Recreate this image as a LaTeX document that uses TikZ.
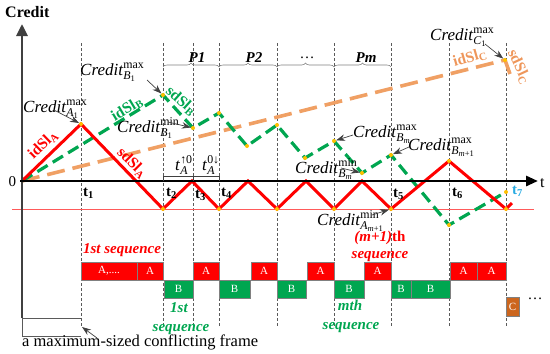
\documentclass[tikz,border=0pt]{standalone}
\usepackage{fontspec}
\usepackage{amsmath}
\setmainfont{Liberation Serif}
\usetikzlibrary{arrows.meta,decorations.pathreplacing}
\definecolor{myred}{RGB}{255,0,0}
\definecolor{myredthin}{RGB}{255,90,90}
\definecolor{mygreen}{RGB}{0,166,80}
\definecolor{myorange}{RGB}{240,160,100}
\definecolor{myorangetxt}{RGB}{238,150,90}
\definecolor{mybrown}{RGB}{204,102,30}
\definecolor{mycyan}{RGB}{41,171,226}
\definecolor{mydot}{RGB}{255,192,0}
\definecolor{axisgray}{RGB}{64,64,64}
\definecolor{guidegray}{RGB}{90,90,90}
\begin{document}
\begin{tikzpicture}[x=1pt,y=-1pt]
\tikzset{
 guide/.style={draw=guidegray, line width=0.6pt, dash pattern=on 3pt off 2pt},
 redline/.style={draw=myred, line width=3pt},
 grnline/.style={draw=mygreen, line width=3.2pt, dash pattern=on 12pt off 6pt},
 orgline/.style={draw=myorange, line width=3.6pt, dash pattern=on 18pt off 8pt},
 ptr/.style={draw=axisgray, line width=0.7pt, -{Stealth[length=9pt,width=6.5pt]}},
 dot/.style={circle, fill=mydot, inner sep=0pt, minimum size=4pt},
 cl/.style={anchor=base west, inner sep=0pt, font=\fontsize{17}{17}\selectfont},
 tl/.style={anchor=base west, inner sep=0pt, font=\bfseries\fontsize{15}{15}\selectfont},
 slopelab/.style={inner sep=0pt, font=\bfseries\fontsize{15.5}{15.5}\selectfont},
 seq/.style={anchor=base, inner sep=0pt, font=\bfseries\itshape\fontsize{15}{15}\selectfont},
 abox/.style={draw=gray, line width=0.5pt, fill=myred, text=white, minimum height=18pt, inner sep=0pt, font=\fontsize{11}{11}\selectfont},
 bbox/.style={abox, fill=mygreen},
 plab/.style={anchor=base, inner sep=0pt, font=\bfseries\itshape\fontsize{15}{15}\selectfont},
 brc/.style={draw=gray, line width=0.6pt, decorate, decoration={brace, amplitude=4pt}},
}
\useasboundingbox (0,0) rectangle (550,354);
% guide lines
\foreach \x in {81,163,193,219,277,334,391,449,506}
  \draw[guide] (\x,43) -- (\x,326);
% thin red reference line
\draw[myredthin, line width=0.6pt] (12,209) -- (534,209);
% coordinates
\coordinate (O) at (22,181);
\coordinate (R1) at (81,124);
\coordinate (R2) at (163,209);
\coordinate (R3) at (192,181);
\coordinate (R4) at (219,209);
\coordinate (R5) at (248,181);
\coordinate (R6) at (277,209);
\coordinate (R7) at (306,181);
\coordinate (R8) at (334,209);
\coordinate (R9) at (362,181);
\coordinate (R10) at (391,209);
\coordinate (R11) at (449,161);
\coordinate (R12) at (506,209);
\coordinate (R13) at (512,203);
\coordinate (G1) at (163,95);
\coordinate (G2) at (193,128);
\coordinate (G3) at (219,113);
\coordinate (G4) at (247,146);
\coordinate (G5) at (277,125);
\coordinate (G6) at (305,158);
\coordinate (G7) at (334,141);
\coordinate (G8) at (362,173);
\coordinate (G9) at (391,155);
\coordinate (G10) at (449,225);
\coordinate (G11) at (506,192);
\coordinate (O1) at (505,60);
\coordinate (O2) at (510,74);
% curves
\draw[orgline] (O) -- (O1);
\draw[draw=myorange, line width=3.6pt] (O1) -- (O2);
\draw[grnline] (O) -- (G1) -- (G2) -- (G3) -- (G4) -- (G5) -- (G6) -- (G7) -- (G8) -- (G9) -- (G10) -- (G11);
\draw[redline] (O) -- (R1) -- (R2) -- (R3) -- (R4) -- (R5) -- (R6) -- (R7) -- (R8) -- (R9) -- (R10) -- (R11) -- (R12) -- (R13);
% axes
\coordinate (ybot) at (22,318);
\coordinate (ytop) at (22,24);
\coordinate (xl) at (20,181);
\coordinate (xr) at (538,181);
\draw[axisgray, line width=2.8pt, -{Triangle[length=12pt,width=11pt]}] (ybot) -- (ytop);
\draw[black, line width=2.8pt, -{Triangle[length=12pt,width=10pt]}] (xl) -- (xr);
% t_A dimension bracket
\draw[axisgray, line width=0.7pt] (163,181) -- (163,176) -- (219,176) -- (219,181);
\draw[axisgray, line width=0.7pt] (193,176) -- (193,181);
% dots
\foreach \p in {R1,R2,R4,R6,R8,R10,R11,R12,G1,G2,G3,G4,G5,G6,G7,G8,G9,G10,G11,O1}
  \node[dot] (d\p) at (\p) {};
% frame
\draw[guidegray, line width=0.6pt] (22,318) -- (81,318);
\draw[guidegray, line width=0.6pt] (22,318) -- (22,336) -- (81,336);
\node[anchor=base west, inner sep=0pt, font=\fontsize{16.5}{16.5}\selectfont] (frame) at (22,346) {a maximum-sized conflicting frame};
\coordinate (frtail) at (97,338);
\coordinate (frtip) at (82,327);
\draw[ptr] (frtail) -- (frtip);
% title and axis labels
\node[anchor=base west, inner sep=0pt, font=\bfseries\fontsize{16}{16}\selectfont] (title) at (5,17) {Credit};
\node[anchor=base, inner sep=0pt, font=\fontsize{15}{15}\selectfont] (zero) at (12.5,186) {0};
\node[anchor=base west, inner sep=0pt, font=\fontsize{16}{16}\selectfont] (tlab) at (540,187) {t};
\node[tl] (t1) at (83,196) {t\textsubscript{1}};
\node[tl] (t2) at (166,196) {t\textsubscript{2}};
\node[tl] (t3) at (195,198) {t\textsubscript{3}};
\node[tl] (t4) at (221,196) {t\textsubscript{4}};
\node[tl] (t5) at (393,197) {t\textsubscript{5}};
\node[tl] (t6) at (452,196) {t\textsubscript{6}};
\node[tl, text=mycyan] (t7) at (512,194) {t\textsubscript{7}};
% braces and P labels
\draw[brc] (163,67) -- (219,67);
\draw[brc] (219,67) -- (277,67);
\draw[brc] (277,67) -- (334,67);
\draw[brc] (334,67) -- (391,67);
\node[plab] (P1) at (197,62) {P1};
\node[plab] (P2) at (254,62) {P2};
\node[anchor=base, inner sep=0pt, font=\fontsize{15}{15}\selectfont] (Pdots) at (307,58) {…};
\node[plab] (Pm) at (366,62) {Pm};
% t_A labels
\node[cl] (tAup) at (175,170) {\textit{t}$^{\text{↑0}}_{\text{\itshape A}}$};
\node[cl] (tAdn) at (202,170) {\textit{t}$^{\text{0↓}}_{\text{\itshape A}}$};
% slope labels
\node[slopelab, text=myred, rotate=44] (idA) at (43,145) {idSl\textsubscript{A}};
\node[slopelab, text=myred, rotate=-45] (sdA) at (132,163) {sdSl\textsubscript{A}};
\node[slopelab, text=mygreen, rotate=31] (idB) at (127,109) {idSl\textsubscript{B}};
\node[slopelab, text=mygreen, rotate=-42] (sdB) at (181,101) {sdSl\textsubscript{B}};
\node[slopelab, text=myorangetxt, rotate=16] (idC) at (470,58) {idSl\textsubscript{C}};
\node[slopelab, text=myorangetxt, rotate=-65] (sdC) at (519,67) {sdSl\textsubscript{C}};
% Credit labels
\node[cl] (cA1) at (23,112) {\textit{Credit}$^{\text{max}}_{\text{\itshape A}_{\text{1}}}$};
\node[cl] (cB1x) at (80,75) {\textit{Credit}$^{\text{max}}_{\text{\itshape B}_{\text{1}}}$};
\node[cl] (cB1n) at (117,132) {\textit{Credit}$^{\text{min}}_{\text{\itshape B}_{\text{1}}}$};
\node[cl] (cC1) at (430,40) {\textit{Credit}$^{\text{max}}_{\text{\itshape C}_{\text{1}}}$};
\node[cl] (cBmx) at (353,137) {\textit{Credit}$^{\text{max}}_{\text{\itshape B}_{\text{\itshape m}}}$};
\node[cl] (cBm1) at (408,150) {\textit{Credit}$^{\text{max}}_{\text{\itshape B}_{\text{\itshape m}\text{+1}}}$};
\node[cl] (cBmn) at (295,173) {\textit{Credit}$^{\text{min}}_{\text{\itshape B}_{\text{\itshape m}}}$};
\node[cl] (cAm1) at (317,225) {\textit{Credit}$^{\text{min}}_{\text{\itshape A}_{\text{\itshape m}\text{+1}}}$};
% pointer tails
\coordinate (pa1) at (54,110);
\coordinate (pb1x) at (147,80);
\coordinate (pb1n) at (168,122);
\coordinate (pc1) at (485,44);
\coordinate (pbmx) at (353,135);
\coordinate (pbm1) at (409,147);
\coordinate (pbmn) at (341,168);
\coordinate (pam1) at (372,215);
\draw[ptr] (pa1) -- (dR1);
\draw[ptr] (pb1x) -- (dG1);
\draw[ptr] (pb1n) -- (dG2);
\draw[ptr] (pc1) -- (dO1);
\draw[ptr] (pbmx) -- (dG7);
\draw[ptr] (pbm1) -- (dG9);
\draw[ptr] (pbmn) -- (dG8);
\draw[ptr] (pam1) -- (dR10);
% sequence labels
\node[seq, text=myred] (seq1r) at (122,253) {1st sequence};
\node[seq, text=myred] (seqmr1) at (380,241) {(m+1)\textup{th}};
\node[seq, text=myred] (seqmr2) at (380,258) {sequence};
\node[seq, text=mygreen] (seq1g1) at (179,312) {1st};
\node[seq, text=mygreen] (seq1g2) at (181,331) {sequence};
\node[seq, text=mygreen] (seqmg1) at (350,310) {mth};
\node[seq, text=mygreen] (seqmg2) at (351,329) {sequence};
% boxes
\node[abox, minimum width=56pt] (a1) at (109,271) {A,....};
\node[abox, minimum width=26pt] (a2) at (150,271) {A};
\node[abox, minimum width=26pt] (a3) at (206,271) {A};
\node[abox, minimum width=26pt] (a4) at (264,271) {A};
\node[abox, minimum width=27pt] (a5) at (320.5,271) {A};
\node[abox, minimum width=27pt] (a6) at (377.5,271) {A};
\node[abox, minimum width=27pt] (a7) at (463.5,271) {A};
\node[abox, minimum width=29pt] (a8) at (491.5,271) {A};
\node[bbox, minimum width=29pt] (b1) at (178.5,289) {B};
\node[bbox, minimum width=31pt] (b2) at (234.5,289) {B};
\node[bbox, minimum width=29pt] (b3) at (291.5,289) {B};
\node[bbox, minimum width=30pt] (b4) at (349,289) {B};
\node[bbox, minimum width=20pt] (b5) at (401,289) {B};
\node[bbox, minimum width=39pt] (b6) at (430.5,289) {B};
\node[abox, fill=mybrown, minimum width=13pt, minimum height=19pt] (c1) at (512.5,306.5) {C};
\node[anchor=base, inner sep=0pt, font=\fontsize{15}{15}\selectfont] (cdots) at (535,299) {…};
\end{tikzpicture}
\end{document}
